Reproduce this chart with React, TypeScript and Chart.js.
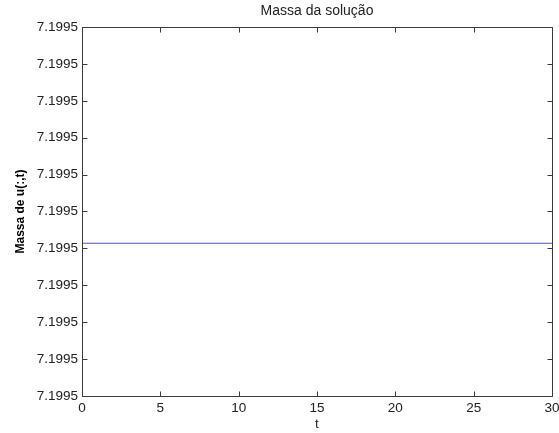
import React, { useEffect, useRef } from "react";
import { Chart, registerables } from "chart.js";

Chart.register(...registerables);

// Data
const timeValues = [0, 5, 10, 15, 20, 25, 30];
const massValues = [7.19950414, 7.19950414, 7.19950414, 7.19950414, 7.19950414, 7.19950414, 7.19950414];
const xTicks = [0, 5, 10, 15, 20, 25, 30];
const yTicks = [7.1995, 7.199501, 7.199502, 7.199503, 7.199504, 7.199505, 7.199506, 7.199507, 7.199508, 7.199509, 7.19951];
const titleText = "Massa da solução";
const xLabel = "t";
const yLabel = "Massa de u(:,t)";

const AXIS_COLOR = "#3c3c3c";
const TEXT_COLOR = "#222222";
const FONT = "'Liberation Sans', Arial, sans-serif";

const boxPlugin = {
  id: "matlabBox",
  afterDraw(chart: any) {
    const { ctx, chartArea } = chart;
    const { left, right, top, bottom } = chartArea;
    const xs = chart.scales.x;
    const ys = chart.scales.y;
    const L = 5;
    ctx.save();
    ctx.strokeStyle = AXIS_COLOR;
    ctx.lineWidth = 1;
    ctx.beginPath();
    const l = Math.round(left) + 0.5, r = Math.round(right) + 0.5;
    const t = Math.round(top) + 0.5, b = Math.round(bottom) + 0.5;
    ctx.rect(l, t, r - l, b - t);
    for (const v of xTicks) {
      const px = Math.round(xs.getPixelForValue(v)) + 0.5;
      ctx.moveTo(px, b); ctx.lineTo(px, b - L);
      ctx.moveTo(px, t); ctx.lineTo(px, t + L);
    }
    for (const v of yTicks) {
      const py = Math.round(ys.getPixelForValue(v)) + 0.5;
      ctx.moveTo(l, py); ctx.lineTo(l + L, py);
      ctx.moveTo(r, py); ctx.lineTo(r - L, py);
    }
    ctx.stroke();
    ctx.restore();
  },
};

export default function App() {
  const ref = useRef<HTMLCanvasElement | null>(null);
  useEffect(() => {
    document.body.style.margin = "0";
    const chart = new Chart(ref.current as HTMLCanvasElement, {
      type: "line",
      data: {
        datasets: [
          {
            data: timeValues.map((t, i) => ({ x: t, y: massValues[i] })),
            borderColor: "#4a4aff",
            borderWidth: 1.2,
            pointRadius: 0,
            fill: false,
            tension: 0,
          },
        ],
      },
      options: {
        animation: false,
        responsive: false,
        maintainAspectRatio: false,
        layout: { padding: { top: 0, right: 7, left: 0, bottom: 0 } },
        plugins: {
          legend: { display: false },
          tooltip: { enabled: false },
          title: {
            display: true,
            text: titleText,
            fullSize: false,
            color: TEXT_COLOR,
            font: { family: FONT, size: 14, weight: "normal" },
            padding: { top: 3, bottom: 7.2 },
          },
        },
        scales: {
          x: {
            type: "linear",
            min: 0,
            max: 30,
            afterBuildTicks: (s: any) => { s.ticks = xTicks.map((v) => ({ value: v })); },
            afterFit: (s: any) => { s.height = 37; s.paddingRight = 0; s.paddingLeft = 0; },
            grid: { display: false, drawTicks: false },
            border: { display: false },
            ticks: {
              color: TEXT_COLOR,
              padding: 4,
              maxRotation: 0,
              font: { family: FONT, size: 13.5 },
            },
            title: {
              display: true,
              text: xLabel,
              color: TEXT_COLOR,
              padding: { top: 0, bottom: 1 },
              font: { family: FONT, size: 13.5 },
            },
          },
          y: {
            type: "linear",
            min: 7.1995,
            max: 7.19951,
            afterBuildTicks: (s: any) => { s.ticks = yTicks.map((v) => ({ value: v })); },
            afterFit: (s: any) => { s.width = 82; s.paddingTop = 0; s.paddingBottom = 0; },
            grid: { display: false, drawTicks: false },
            border: { display: false },
            ticks: {
              color: TEXT_COLOR,
              padding: 4,
              callback: (v: any) => Number(v).toPrecision(5),
              font: { family: FONT, size: 13.5 },
            },
            title: {
              display: true,
              text: yLabel,
              color: "#000000",
              padding: { top: 13, bottom: 0 },
              font: { family: FONT, size: 12, weight: "bold" },
            },
          },
        },
      },
      plugins: [boxPlugin],
    });
    return () => chart.destroy();
  }, []);
  return (
    <div style={{ position: "fixed", left: 0, top: 0, width: 559, height: 433, background: "#fff" }}>
      <canvas ref={ref} width={559} height={433} />
    </div>
  );
}
